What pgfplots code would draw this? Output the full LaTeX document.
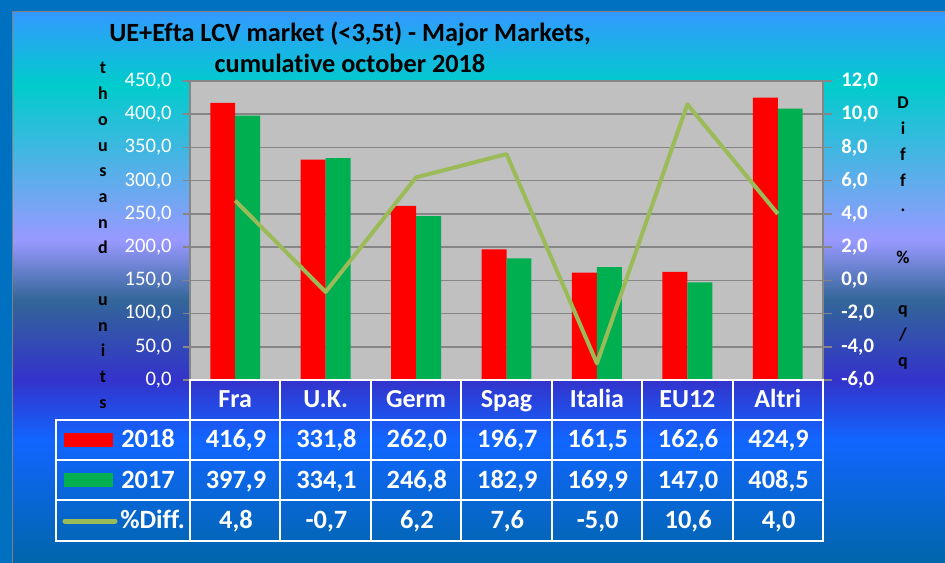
\documentclass[border=0pt]{standalone}
\usepackage{pgfplots}
\pgfplotsset{compat=1.18}
\usepackage{fontspec}
\setmainfont{Carlito}[Ligatures=NoCommon]
\definecolor{outerblue}{HTML}{0070C0}
\definecolor{plotgray}{HTML}{C0C0C0}
\definecolor{gridgray}{HTML}{868686}
\definecolor{barred}{HTML}{FF0000}
\definecolor{bargreen}{HTML}{00B050}
\definecolor{diffline}{HTML}{9BBB59}
\definecolor{c1}{HTML}{0066AA}
\definecolor{c2}{HTML}{1166FF}
\definecolor{c3}{HTML}{3333CC}
\definecolor{c4}{HTML}{336699}
\definecolor{c5}{HTML}{9999FF}
\definecolor{c6}{HTML}{00CCCC}
\definecolor{c7}{HTML}{3399FF}
\pgfdeclareverticalshading{bgshade}{100bp}{color(0bp)=(c1); color(25bp)=(c1); color(36.16bp)=(c2); color(41.6bp)=(c3); color(48.87bp)=(c4); color(54.31bp)=(c5); color(68.38bp)=(c6); color(75bp)=(c7); color(100bp)=(c7)}
\begin{document}
\begin{tikzpicture}
\begin{scope}[x=0.75pt,y=-0.75pt]
\useasboundingbox (0,0) rectangle (945,563);
\fill[outerblue] (0,0) rectangle (945,563);
\shade[shading=bgshade] (12,12) rectangle (945,563);
\draw[gray, line width=0.75pt] (12,563) -- (12,12) -- (945,12);
\node[font=\bfseries\fontsize{19.7}{21}\selectfont, anchor=base, inner sep=0pt] at (350,42) {UE+Efta LCV market (<3,5t) - Major Markets,};
\node[font=\bfseries\fontsize{19.7}{21}\selectfont, anchor=base, inner sep=0pt] at (350,73) {cumulative october 2018};
\foreach \ch [count=\i from 0] in {t,h,o,u,s,a,n,d,{},u,n,i,t,s}
  \node[font=\bfseries\fontsize{13.5}{14}\selectfont, anchor=base, inner sep=0pt] at (103,74+25.7*\i) {\ch};
\foreach \ch [count=\i from 0] in {D,i,f,f,.,{},\%,{},q,/,q}
  \node[font=\bfseries\fontsize{13.5}{14}\selectfont, anchor=base, inner sep=0pt] at (903,109+25.7*\i) {\ch};
\end{scope}

\begin{axis}[
  at={(142.5pt,-285pt)}, anchor=south west, scale only axis,
  width=474.75pt, height=224.25pt,
  xmin=-0.5, xmax=6.5, ymin=0, ymax=450,
  xtick=\empty, ytick={0,50,...,450}, ytick pos=left,
  tick align=outside, major tick length=5.25pt,
  axis background/.style={fill=plotgray},
  axis line style={draw=gridgray, line width=1.5pt},
  ymajorgrids, grid style={draw=gridgray, line width=1.2pt},
  tick style={draw=gridgray, line width=1.2pt},
  yticklabel style={white, font=\fontsize{15.5}{16}\selectfont, xshift=-5pt, /pgf/number format/.cd, fixed, fixed zerofill, precision=1, use comma, assume math mode=true},
  ybar, bar width=0.276,
]
\addplot[fill=barred, draw=none, bar shift=-0.138] coordinates {(0,416.9) (1,331.8) (2,262.0) (3,196.7) (4,161.5) (5,162.6) (6,424.9)};
\addplot[fill=bargreen, draw=none, bar shift=0.138] coordinates {(0,397.9) (1,334.1) (2,246.8) (3,182.9) (4,169.9) (5,147.0) (6,408.5)};
\end{axis}

\begin{axis}[
  at={(142.5pt,-285pt)}, anchor=south west, scale only axis,
  width=474.75pt, height=224.25pt,
  xmin=-0.5, xmax=6.5, ymin=-6, ymax=12,
  ytick={-6,-4,...,12},
  axis y line*=right, axis x line=none,
  tick align=outside, major tick length=6.75pt,
  axis line style={draw=gridgray, line width=1.5pt},
  tick style={draw=gridgray, line width=1.2pt},
  yticklabel style={white, font=\bfseries\fontsize{15.5}{16}\selectfont, xshift=3.5pt, /pgf/number format/.cd, fixed, fixed zerofill, precision=1, use comma, assume math mode=true},
]
\addplot[draw=diffline, line width=3pt, line join=round] coordinates {(0,4.8) (1,-0.7) (2,6.2) (3,7.6) (4,-5.0) (5,10.6) (6,4.0)};
\end{axis}

\begin{scope}[x=0.75pt,y=-0.75pt]
% table lines
\draw[white, line width=1.5pt] (190,380) rectangle (823.0,420);
\draw[white, line width=1.5pt] (56,420) rectangle (823.0,541);
\draw[white, line width=1.5pt] (56,460) -- (823,460);
\draw[white, line width=1.5pt] (56,500) -- (823,500);
\foreach \i in {1,...,6}
  \draw[white, line width=1.5pt] (190+90.43*\i,380) -- (190+90.43*\i,541);
\draw[white, line width=1.5pt] (190,380) -- (190,541);
% header and values
\foreach \t [count=\i from 0] in {Fra,U.K.,Germ,Spag,Italia,EU12,Altri}
  \node[white, font=\bfseries\fontsize{19.5}{20}\selectfont, anchor=base, inner sep=0pt] at (235.2+90.43*\i,407) {\t};
\foreach \t [count=\i from 0] in {416{,}9,331{,}8,262{,}0,196{,}7,161{,}5,162{,}6,424{,}9}
  \node[white, font=\bfseries\fontsize{19.8}{20}\selectfont, anchor=base, inner sep=0pt] at (236+90.43*\i,447) {\t};
\foreach \t [count=\i from 0] in {397{,}9,334{,}1,246{,}8,182{,}9,169{,}9,147{,}0,408{,}5}
  \node[white, font=\bfseries\fontsize{19.8}{20}\selectfont, anchor=base, inner sep=0pt] at (236+90.43*\i,488) {\t};
\foreach \t [count=\i from 0] in {4{,}8,-0{,}7,6{,}2,7{,}6,-5{,}0,10{,}6,4{,}0}
  \node[white, font=\bfseries\fontsize{19.8}{20}\selectfont, anchor=base, inner sep=0pt] at (236+90.43*\i,528) {\t};
% legend keys
\fill[barred] (64,433) rectangle (113,447);
\fill[bargreen] (64,473) rectangle (113,487);
\draw[diffline, line width=3.75pt, line cap=round] (65,521) -- (115,521);
\node[white, font=\bfseries\fontsize{19.8}{20}\selectfont, anchor=base west, inner sep=0pt] at (121,447) {2018};
\node[white, font=\bfseries\fontsize{19.8}{20}\selectfont, anchor=base west, inner sep=0pt] at (121,488) {2017};
\node[white, font=\bfseries\fontsize{19.8}{20}\selectfont, anchor=base west, inner sep=0pt] at (120,528) {\%Diff.};
\end{scope}
\end{tikzpicture}
\end{document}
